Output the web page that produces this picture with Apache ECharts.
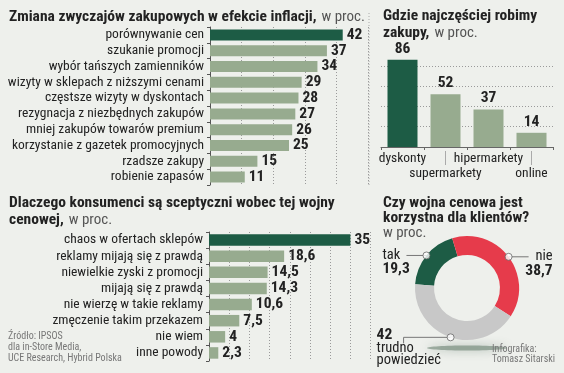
<!DOCTYPE html>
<html><head><meta charset="utf-8">
<script src="https://cdn.jsdelivr.net/npm/echarts@6/dist/echarts.min.js"></script>
<style>html,body{margin:0;padding:0;background:#eef0ec}#c{width:564px;height:373px}</style>
</head><body><div id="c"></div>
<script>
const habitCategories = ['porównywanie cen','szukanie promocji','wybór tańszych zamienników','wizyty w sklepach z niższymi cenami','częstsze wizyty w dyskontach','rezygnacja z niezbędnych zakupów','mniej zakupów towarów premium','korzystanie z gazetek promocyjnych','rzadsze zakupy','robienie zapasów'];
const habitValues = [42,37,34,29,28,27,26,25,15,11];
const storeCategories = ['dyskonty','supermarkety','hipermarkety','online'];
const storeValues = [86,52,37,14];
const doubtCategories = ['chaos w ofertach sklepów','reklamy mijają się z prawdą','niewielkie zyski z promocji','mijają się z prawdą','nie wierzę w takie reklamy','zmęczenie takim przekazem','nie wiem','inne powody'];
const doubtValues = [35,18.6,14.5,14.3,10.6,7.5,4,2.3];
const opinionNames = ['tak','nie','trudno powiedzieć'];
const opinionValues = [19.3,38.7,42];

const F = "'Roboto Condensed',sans-serif";
const DARK = '#1d5c45', LIGHT = '#97ab8f', RED = '#e63b4b', GRAY = '#c8c8c8';
const fmt = v => String(v).replace('.', ',');
const txt = '#222';
const dotted = {type:[1,2], color:'#9a9a9a', width:1};

const total = opinionValues.reduce((a,b)=>a+b,0);
let acc = 0;
const mids = opinionValues.map(v => { const m = acc + v/2; acc += v; return [1, m/total*100]; });

const titleRich = {
  b:{fontFamily:F, fontWeight:'bold', fontSize:15.5, color:txt, lineHeight:15},
  l:{fontFamily:F, fontWeight:'normal', fontSize:15, color:'#555', lineHeight:15}
};
const valLabel = {show:true, fontFamily:F, fontWeight:'bold', fontSize:15.5, color:txt};
const catLabel = {fontFamily:F, fontSize:13.5, color:txt};

const chart = echarts.init(document.getElementById('c'));
chart.setOption({
  backgroundColor:'#eef0ec',
  animation:false,
  title:[
    {left:9, top:8, padding:0, text:'{b|Zmiana zwyczajów zakupowych w efekcie inflacji,} {l|w proc.}', textStyle:{rich:titleRich}},
    {left:383, top:9, padding:0, text:'{b|Gdzie najczęściej robimy}\n{b|zakupy,} {l|w proc.}', textStyle:{rich:titleRich}},
    {left:9, top:196, padding:0, text:'{b|Dlaczego konsumenci są sceptyczni wobec tej wojny}\n{b|cenowej,} {l|w proc.}', textStyle:{rich:titleRich}},
    {left:383, top:196, padding:0, text:'{b|Czy wojna cenowa jest}\n{b|korzystna dla klientów?}\n{l|w proc.}', textStyle:{rich:titleRich}}
  ],
  grid:[
    {left:210, top:27, width:158, height:158, outerBoundsMode:'none'},
    {left:381, top:45.5, width:172, height:101.5, outerBoundsMode:'none'},
    {left:209, top:232, width:161.6, height:129, outerBoundsMode:'none'}
  ],
  xAxis:[
    {gridIndex:0, type:'value', min:0, max:50, interval:10, axisLabel:{show:false}, axisLine:{show:false}, axisTick:{show:false}, splitLine:{show:true, lineStyle:dotted}},
    {gridIndex:1, type:'category', data:storeCategories, axisLine:{show:true, lineStyle:{color:'#666'}}, axisTick:{show:true, length:3, lineStyle:{color:'#666'}},
      axisLabel:Object.assign({}, catLabel, {margin:4, lineHeight:15, interval:0, formatter:(v,i)=> i%2 ? '\n'+v : v})},
    {gridIndex:1, type:'category', data:storeCategories, position:'bottom', offset:4, axisLine:{show:false}, axisLabel:{show:false},
      axisTick:{show:true, alignWithLabel:true, interval:(i)=> i%2===1, length:14, lineStyle:{color:'#aaa'}}},
    {gridIndex:2, type:'value', min:0, max:40, interval:5, axisLabel:{show:false}, axisLine:{show:false}, axisTick:{show:false}, splitLine:{show:true, lineStyle:dotted}}
  ],
  yAxis:[
    {gridIndex:0, type:'category', data:habitCategories, inverse:true, axisLine:{show:true, lineStyle:{color:'#555'}}, axisTick:{show:true, length:3, lineStyle:{color:'#555'}},
      axisLabel:Object.assign({}, catLabel, {margin:6, interval:0})},
    {gridIndex:1, type:'value', min:0, max:100, interval:20, axisLabel:{show:false}, axisLine:{show:false}, axisTick:{show:false},
      splitLine:{show:true, showMinLine:false, showMaxLine:false, lineStyle:dotted}},
    {gridIndex:2, type:'category', data:doubtCategories, inverse:true, axisLine:{show:true, lineStyle:{color:'#555'}}, axisTick:{show:true, length:3, lineStyle:{color:'#555'}},
      axisLabel:Object.assign({}, catLabel, {margin:6, interval:0})}
  ],
  polar:{center:[467,288], radius:52},
  angleAxis:{type:'value', min:0, max:100, startAngle:176, clockwise:true, show:false},
  radiusAxis:{type:'value', min:0, max:1, show:false},
  series:[
    {type:'bar', xAxisIndex:0, yAxisIndex:0, data:habitValues, barWidth:11,
      itemStyle:{color:p=> p.dataIndex===0 ? DARK : LIGHT},
      label:Object.assign({}, valLabel, {position:'right', distance:4, formatter:p=>fmt(p.value)})},
    {type:'bar', xAxisIndex:1, yAxisIndex:1, data:storeValues, barWidth:30,
      itemStyle:{color:p=> p.dataIndex===0 ? DARK : LIGHT},
      label:Object.assign({}, valLabel, {position:'top', distance:3, formatter:p=>fmt(p.value)})},
    {type:'bar', xAxisIndex:3, yAxisIndex:2, data:doubtValues, barWidth:11.5,
      itemStyle:{color:p=> p.dataIndex===0 ? DARK : LIGHT},
      label:Object.assign({}, valLabel, {position:'right', distance:4, formatter:p=>fmt(p.value)})},
    {type:'pie', center:[467,288], radius:[33,52], startAngle:176, clockwise:true, avoidLabelOverlap:false,
      emphasis:{disabled:true},
      data:opinionNames.map((n,i)=>({name:n, value:opinionValues[i]})),
      color:[DARK, RED, GRAY],
      label:{show:true, position:'outside', fontFamily:F,
        formatter:p=> p.dataIndex===2
          ? '{v|'+fmt(p.value)+'}\n' + p.name.split(' ').map(s=>'{m|'+s+'}').join('\n')
          : '{n|'+p.name+'}\n{v|'+fmt(p.value)+'}',
        rich:{
          n:{fontFamily:F, fontSize:14.5, color:txt, lineHeight:14},
          m:{fontFamily:F, fontSize:14.5, color:txt, lineHeight:12},
          v:{fontFamily:F, fontSize:15.5, fontWeight:'bold', color:txt, lineHeight:14}
        }},
      labelLine:{show:true, length:5, length2:10, lineStyle:{color:'#777', width:1}},
      labelLayout:function(p){
        const pts = p.labelLinePoints; if(!pts) return {};
        const x0 = pts[0][0], y0 = pts[0][1];
        if(p.dataIndex===0) return {x:x0-44, y:y0-7, align:'left', verticalAlign:'top', labelLinePoints:[[x0,y0],[x0-20,y0],[x0-20,y0]]};
        if(p.dataIndex===1) return {x:x0+44, y:y0-7, align:'right', verticalAlign:'top', labelLinePoints:[[x0,y0],[x0+20,y0],[x0+20,y0]]};
        return {x:x0-74, y:y0-9, align:'left', verticalAlign:'top', labelLinePoints:[[x0,y0],[x0-47,y0],[x0-47,y0+6]]};
      }
    },
    {type:'scatter', coordinateSystem:'polar', data:mids, symbol:'circle', symbolSize:7, z:5, silent:true,
      itemStyle:{color:'#fff', borderColor:'#666', borderWidth:1}}
  ],
  graphic:[
    {type:'line', shape:{x1:369, y1:13, x2:369, y2:187}, style:{stroke:'#aaa', lineDash:[1,2], lineWidth:1}},
    {type:'ellipse', shape:{cx:467, cy:348, rx:40, ry:2.5}, z:-1, style:{fill:'rgba(70,100,80,0.45)', shadowBlur:10, shadowColor:'rgba(60,95,75,0.8)'}},
    {type:'text', left:8, top:331, style:{text:'Źródło: IPSOS\ndla in-Store Media,\nUCE Research, Hybrid Polska', font:'10px '+F, fill:'#777', lineHeight:11}},
    {type:'text', right:9, top:344, style:{text:'Infografika:\nTomasz Sitarski', align:'right', font:'10px '+F, fill:'#777', lineHeight:10.5}}
  ]
});
</script></body></html>
